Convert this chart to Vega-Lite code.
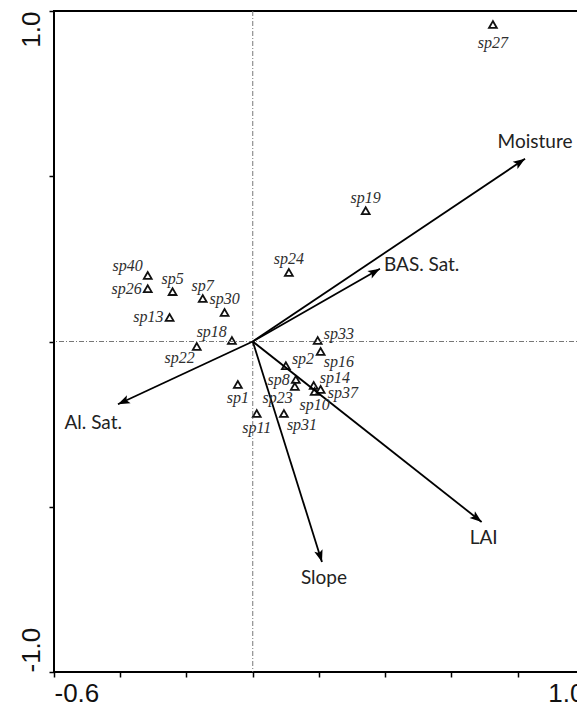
{
  "$schema": "https://vega.github.io/schema/vega-lite/v6.json",
  "width": 530,
  "height": 661,
  "autosize": "none",
  "padding": {"left": 54, "top": 11, "right": 0, "bottom": 39},
  "background": "white",
  "config": {
    "view": {"stroke": "#000", "strokeWidth": 2},
    "axis": {
      "grid": false, "domain": false, "ticks": true, "tickColor": "#000", "tickWidth": 1.5, "tickSize": 5,
      "labelFont": "Liberation Sans", "labelFontSize": 26, "labelColor": "#111", "labelOverlap": false
    }
  },
  "datasets": {
    "species": [
      {"name": "sp27", "x": 0.725, "y": 0.959, "pos": "S2"},
      {"name": "sp19", "x": 0.341, "y": 0.396, "pos": "N"},
      {"name": "sp24", "x": 0.109, "y": 0.209, "pos": "N"},
      {"name": "sp40", "x": -0.317, "y": 0.200, "pos": "NW"},
      {"name": "sp26", "x": -0.317, "y": 0.160, "pos": "W"},
      {"name": "sp5", "x": -0.242, "y": 0.151, "pos": "N"},
      {"name": "sp7", "x": -0.151, "y": 0.130, "pos": "N"},
      {"name": "sp30", "x": -0.085, "y": 0.088, "pos": "N"},
      {"name": "sp13", "x": -0.251, "y": 0.073, "pos": "W"},
      {"name": "sp18", "x": -0.063, "y": 0.003, "pos": "NW"},
      {"name": "sp22", "x": -0.169, "y": -0.015, "pos": "SW"},
      {"name": "sp33", "x": 0.196, "y": 0.003, "pos": "NE"},
      {"name": "sp16", "x": 0.205, "y": -0.030, "pos": "SE"},
      {"name": "sp2", "x": 0.100, "y": -0.073, "pos": "NE"},
      {"name": "sp8", "x": 0.130, "y": -0.115, "pos": "W"},
      {"name": "sp23", "x": 0.127, "y": -0.136, "pos": "SW"},
      {"name": "sp14", "x": 0.184, "y": -0.133, "pos": "NE"},
      {"name": "sp37", "x": 0.205, "y": -0.145, "pos": "E"},
      {"name": "sp10", "x": 0.187, "y": -0.151, "pos": "S"},
      {"name": "sp1", "x": -0.045, "y": -0.130, "pos": "S"},
      {"name": "sp11", "x": 0.012, "y": -0.218, "pos": "S"},
      {"name": "sp31", "x": 0.094, "y": -0.218, "pos": "SE"}
    ],
    "vars": [
      {"name": "Moisture", "x": 0.822, "y": 0.553, "pos": "above"},
      {"name": "BAS. Sat.", "x": 0.384, "y": 0.220, "pos": "right"},
      {"name": "Al. Sat.", "x": -0.407, "y": -0.190, "pos": "belowleft"},
      {"name": "Slope", "x": 0.209, "y": -0.667, "pos": "below"},
      {"name": "LAI", "x": 0.691, "y": -0.546, "pos": "below"}
    ]
  },
  "layer": [
    {
      "data": {"name": "species"},
      "mark": {"type": "point", "shape": "triangle-up", "size": 62, "filled": false, "color": "#111", "strokeWidth": 1.8, "opacity": 1},
      "encoding": {
        "x": {
          "field": "x", "type": "quantitative", "title": null,
          "scale": {"domain": [-0.6, 1.0], "nice": false, "zero": false},
          "axis": {
            "values": [-0.6, -0.4, -0.2, 0, 0.2, 0.4, 0.6, 0.8, 1.0],
            "title": null,
            "labelFlush": true, "labelPadding": 3,
            "labelExpr": "abs(datum.value + 0.6) < 0.001 ? '-0.6' : (abs(datum.value - 1) < 0.001 ? '1.0' : '')"
          }
        },
        "y": {
          "field": "y", "type": "quantitative", "title": null,
          "scale": {"domain": [-1, 1], "nice": false, "zero": false},
          "axis": {
            "values": [-1, -0.5, 0, 0.5, 1],
            "title": null,
            "labelAngle": 270, "labelFlush": false, "labelPadding": 10,
            "labelAlign": {"condition": {"test": "datum.value > 0", "value": "right"}, "value": "left"},
            "labelBaseline": "alphabetic",
            "labelExpr": "datum.value > 0.9 ? '1.0' : (datum.value < -0.9 ? '-1.0' : '')"
          }
        }
      }
    },
    {
      "data": {"values": [{"v": 0}]},
      "mark": {"type": "rule", "color": "#777", "strokeWidth": 1, "strokeDash": [5, 2, 1, 2]},
      "encoding": {
        "x": {"field": "v", "type": "quantitative", "title": null}
      }
    },
    {
      "data": {"values": [{"v": 0}]},
      "mark": {"type": "rule", "color": "#777", "strokeWidth": 1, "strokeDash": [5, 2, 1, 2]},
      "encoding": {
        "y": {"field": "v", "type": "quantitative", "title": null}
      }
    },
    {
      "data": {"name": "vars"},
      "mark": {"type": "rule", "color": "#000", "strokeWidth": 1.8},
      "encoding": {
        "x": {"field": "x", "type": "quantitative", "title": null},
        "y": {"field": "y", "type": "quantitative", "title": null},
        "x2": {"datum": 0},
        "y2": {"datum": 0}
      }
    },
    {
      "data": {"name": "vars"},
      "transform": [{"calculate": "atan2(datum.x, datum.y) * 180 / PI", "as": "ang"}],
      "mark": {"type": "point", "shape": "M0,0L-0.38,1.05L0,0.82L0.38,1.05Z", "size": 520, "filled": true, "color": "#000", "opacity": 1, "strokeWidth": 0},
      "encoding": {
        "x": {"field": "x", "type": "quantitative", "title": null},
        "y": {"field": "y", "type": "quantitative", "title": null},
        "angle": {"field": "ang", "type": "quantitative", "scale": null}
      }
    },
    {
      "data": {"name": "species"},
      "transform": [{"filter": "datum.pos == 'N'"}],
      "mark": {"type": "text", "font": "Liberation Serif", "fontStyle": "italic", "fontSize": 16, "fill": "#2e2e2e", "align": "center", "baseline": "middle", "dy": -13},
      "encoding": {
        "x": {"field": "x", "type": "quantitative", "title": null},
        "y": {"field": "y", "type": "quantitative", "title": null},
        "text": {"field": "name"}
      }
    },
    {
      "data": {"name": "species"},
      "transform": [{"filter": "datum.pos == 'S'"}],
      "mark": {"type": "text", "font": "Liberation Serif", "fontStyle": "italic", "fontSize": 16, "fill": "#2e2e2e", "align": "center", "baseline": "middle", "dy": 14},
      "encoding": {
        "x": {"field": "x", "type": "quantitative", "title": null},
        "y": {"field": "y", "type": "quantitative", "title": null},
        "text": {"field": "name"}
      }
    },
    {
      "data": {"name": "species"},
      "transform": [{"filter": "datum.pos == 'S2'"}],
      "mark": {"type": "text", "font": "Liberation Serif", "fontStyle": "italic", "fontSize": 16, "fill": "#2e2e2e", "align": "center", "baseline": "middle", "dy": 18},
      "encoding": {
        "x": {"field": "x", "type": "quantitative", "title": null},
        "y": {"field": "y", "type": "quantitative", "title": null},
        "text": {"field": "name"}
      }
    },
    {
      "data": {"name": "species"},
      "transform": [{"filter": "datum.pos == 'W'"}],
      "mark": {"type": "text", "font": "Liberation Serif", "fontStyle": "italic", "fontSize": 16, "fill": "#2e2e2e", "align": "right", "baseline": "middle", "dx": -6, "dy": 0},
      "encoding": {
        "x": {"field": "x", "type": "quantitative", "title": null},
        "y": {"field": "y", "type": "quantitative", "title": null},
        "text": {"field": "name"}
      }
    },
    {
      "data": {"name": "species"},
      "transform": [{"filter": "datum.pos == 'E'"}],
      "mark": {"type": "text", "font": "Liberation Serif", "fontStyle": "italic", "fontSize": 16, "fill": "#2e2e2e", "align": "left", "baseline": "middle", "dx": 7, "dy": 4},
      "encoding": {
        "x": {"field": "x", "type": "quantitative", "title": null},
        "y": {"field": "y", "type": "quantitative", "title": null},
        "text": {"field": "name"}
      }
    },
    {
      "data": {"name": "species"},
      "transform": [{"filter": "datum.pos == 'NW'"}],
      "mark": {"type": "text", "font": "Liberation Serif", "fontStyle": "italic", "fontSize": 16, "fill": "#2e2e2e", "align": "right", "baseline": "middle", "dx": -5, "dy": -9},
      "encoding": {
        "x": {"field": "x", "type": "quantitative", "title": null},
        "y": {"field": "y", "type": "quantitative", "title": null},
        "text": {"field": "name"}
      }
    },
    {
      "data": {"name": "species"},
      "transform": [{"filter": "datum.pos == 'NE'"}],
      "mark": {"type": "text", "font": "Liberation Serif", "fontStyle": "italic", "fontSize": 16, "fill": "#2e2e2e", "align": "left", "baseline": "middle", "dx": 6, "dy": -7},
      "encoding": {
        "x": {"field": "x", "type": "quantitative", "title": null},
        "y": {"field": "y", "type": "quantitative", "title": null},
        "text": {"field": "name"}
      }
    },
    {
      "data": {"name": "species"},
      "transform": [{"filter": "datum.pos == 'SW'"}],
      "mark": {"type": "text", "font": "Liberation Serif", "fontStyle": "italic", "fontSize": 16, "fill": "#2e2e2e", "align": "right", "baseline": "middle", "dx": -2, "dy": 12},
      "encoding": {
        "x": {"field": "x", "type": "quantitative", "title": null},
        "y": {"field": "y", "type": "quantitative", "title": null},
        "text": {"field": "name"}
      }
    },
    {
      "data": {"name": "species"},
      "transform": [{"filter": "datum.pos == 'SE'"}],
      "mark": {"type": "text", "font": "Liberation Serif", "fontStyle": "italic", "fontSize": 16, "fill": "#2e2e2e", "align": "left", "baseline": "middle", "dx": 3, "dy": 11},
      "encoding": {
        "x": {"field": "x", "type": "quantitative", "title": null},
        "y": {"field": "y", "type": "quantitative", "title": null},
        "text": {"field": "name"}
      }
    },
    {
      "data": {"name": "vars"},
      "transform": [{"filter": "datum.pos == 'above'"}],
      "mark": {"type": "text", "font": "Lato", "fontSize": 19, "fill": "#222", "align": "center", "baseline": "middle", "dx": 10, "dy": -17},
      "encoding": {
        "x": {"field": "x", "type": "quantitative", "title": null},
        "y": {"field": "y", "type": "quantitative", "title": null},
        "text": {"field": "name"}
      }
    },
    {
      "data": {"name": "vars"},
      "transform": [{"filter": "datum.pos == 'right'"}],
      "mark": {"type": "text", "font": "Lato", "fontSize": 19, "fill": "#222", "align": "left", "baseline": "middle", "dx": 4, "dy": -4},
      "encoding": {
        "x": {"field": "x", "type": "quantitative", "title": null},
        "y": {"field": "y", "type": "quantitative", "title": null},
        "text": {"field": "name"}
      }
    },
    {
      "data": {"name": "vars"},
      "transform": [{"filter": "datum.pos == 'belowleft'"}],
      "mark": {"type": "text", "font": "Lato", "fontSize": 19, "fill": "#222", "align": "right", "baseline": "middle", "dx": 4, "dy": 19},
      "encoding": {
        "x": {"field": "x", "type": "quantitative", "title": null},
        "y": {"field": "y", "type": "quantitative", "title": null},
        "text": {"field": "name"}
      }
    },
    {
      "data": {"name": "vars"},
      "transform": [{"filter": "datum.pos == 'below'"}],
      "mark": {"type": "text", "font": "Lato", "fontSize": 19, "fill": "#222", "align": "center", "baseline": "middle", "dx": 2, "dy": 16},
      "encoding": {
        "x": {"field": "x", "type": "quantitative", "title": null},
        "y": {"field": "y", "type": "quantitative", "title": null},
        "text": {"field": "name"}
      }
    }
  ]
}
